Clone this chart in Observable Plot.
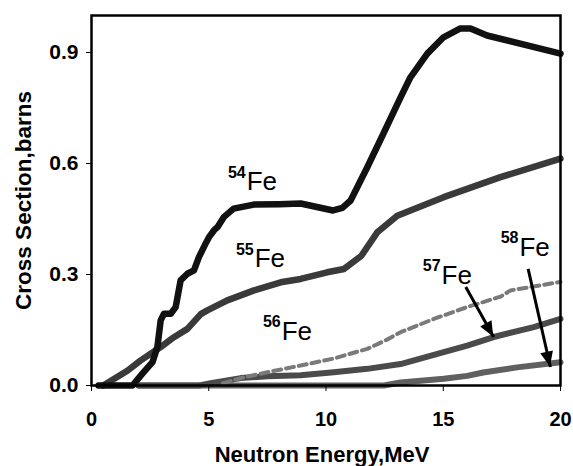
<!DOCTYPE html>
<html><head><meta charset="utf-8">
<script src="https://cdn.jsdelivr.net/npm/d3@7"></script>
<script src="https://cdn.jsdelivr.net/npm/@observablehq/plot@0.6"></script>
<style>body{margin:0;background:#fff}</style>
</head><body><div id="chart"></div>
<script>
// Neutron energy (MeV), cross section (barns)
const fe54 = [[0.3,0],[1.75,0],[2.17,0.032],[2.6,0.063],[2.81,0.104],[2.95,0.176],[3.09,0.194],[3.38,0.194],[3.59,0.212],[3.8,0.284],[4.09,0.302],[4.37,0.311],[4.58,0.347],[4.87,0.384],[5.01,0.401],[5.22,0.419],[5.37,0.428],[5.64,0.455],[6.06,0.478],[6.92,0.489],[8.0,0.49],[8.92,0.492],[10.3,0.473],[10.7,0.48],[11.05,0.5],[11.76,0.59],[12.45,0.681],[13.18,0.779],[13.6,0.833],[14.32,0.897],[15.01,0.941],[15.73,0.965],[16.16,0.965],[16.87,0.946],[20,0.897]];
const fe55 = [[0.5,0],[1.53,0.04],[2.1,0.068],[2.95,0.104],[3.5,0.13],[4.09,0.153],[4.66,0.193],[4.94,0.203],[5.79,0.23],[6.93,0.257],[8.07,0.279],[8.92,0.288],[10.05,0.306],[10.77,0.315],[11.5,0.35],[12.2,0.415],[13.04,0.459],[13.6,0.473],[15.02,0.509],[17.44,0.563],[20,0.613]];
const fe56 = [[5.6,0.006],[6.36,0.02],[7.5,0.036],[8.92,0.054],[10.33,0.073],[11.76,0.099],[12.6,0.124],[13.18,0.144],[14.6,0.18],[16.02,0.212],[17.44,0.24],[17.87,0.257],[20,0.28]];
const fe57 = [[2,0],[4.6,0],[5.08,0.006],[6.36,0.02],[7.5,0.025],[8.92,0.028],[10.33,0.036],[11.76,0.045],[13.18,0.058],[15.02,0.09],[16.02,0.108],[17.15,0.131],[18.86,0.158],[20,0.18]];
const fe58 = [[2,0],[12.47,0],[13.18,0.008],[15.02,0.018],[16.02,0.026],[16.7,0.035],[18.15,0.049],[20,0.063]];

const xTicks = [0, 5, 10, 15, 20];
const yTicks = [0, 0.3, 0.6, 0.9];

// isotope labels (anchor in data coords)
const labelIso = ["54", "55", "56", "57", "58"];
const labelE = [6.62, 6.96, 8.11, 14.93, 18.25];
const labelS = [0.528, 0.32, 0.124, 0.275, 0.351];
const labels = labelIso.map((t, i) => ({t, e: labelE[i], s: labelS[i]}));

// arrows from labels to curves
const arrowFrom = [[15.96, 0.266], [18.62, 0.315]];
const arrowTo = [[17.15, 0.131], [19.57, 0.05]];
const arrows = arrowFrom.map((f, i) => ({x1: f[0], y1: f[1], x2: arrowTo[i][0], y2: arrowTo[i][1]}));

const rows = a => a.map(([e, s]) => ({e, s}));
const FONT = "Liberation Sans, Arial, Helvetica, sans-serif";

const plot = Plot.plot({
  width: 573, height: 466,
  marginLeft: 91, marginRight: 13, marginTop: 15, marginBottom: 81,
  style: {fontFamily: FONT, background: "white", color: "black"},
  x: {domain: [0, 20]},
  y: {domain: [0, 1]},
  marks: [
    Plot.line(rows(fe58), {x: "e", y: "s", stroke: "#606060", strokeWidth: 6, strokeLinejoin: "round"}),
    Plot.line(rows(fe57), {x: "e", y: "s", stroke: "#4a4a4a", strokeWidth: 6, strokeLinejoin: "round"}),
    Plot.line(rows(fe56), {x: "e", y: "s", stroke: "#7a7a7a", strokeWidth: 4, strokeDasharray: "8,5"}),
    Plot.line(rows(fe55), {x: "e", y: "s", stroke: "#3a3a3a", strokeWidth: 6.5, strokeLinejoin: "round"}),
    Plot.line(rows(fe54), {x: "e", y: "s", stroke: "#111", strokeWidth: 6.5, strokeLinejoin: "round"}),
    Plot.link(arrows, {x1: "x1", y1: "y1", x2: "x2", y2: "y2", stroke: "black", strokeWidth: 3}),
    Plot.text(labels, {x: "e", y: "s", text: "t", textAnchor: "end", lineAnchor: "bottom", dx: -1, dy: -12.5, fontSize: 16, fontWeight: "bold", fill: "black"}),
    Plot.text(labels, {x: "e", y: "s", text: () => "Fe", textAnchor: "start", lineAnchor: "bottom", fontSize: 26, fill: "black"}),
    Plot.frame({stroke: "black", strokeWidth: 2.5}),
    Plot.axisX({ticks: xTicks, tickSize: 6, tickPadding: 20, tickFormat: d => String(d), fontSize: 20, fontWeight: "bold", label: null}),
    Plot.axisY({ticks: yTicks, tickSize: 5, tickPadding: 8, tickFormat: d3.format(".1f"), fontSize: 21, fontWeight: "bold", label: null}),
    Plot.text(["Neutron Energy,MeV"], {text: d => d, frameAnchor: "bottom", dy: 76, dx: -4, lineAnchor: "bottom", textAnchor: "middle", fontSize: 22, fontWeight: "bold", fill: "black"}),
    Plot.text(["Cross Section,barns"], {text: d => d, frameAnchor: "left", dx: -68, rotate: -90, textAnchor: "middle", lineAnchor: "middle", fontSize: 22.5, fontWeight: "bold", fill: "black"})
  ]
});

// filled arrowheads placed through the plot's own scales
try {
  const sx = plot.scale("x"), sy = plot.scale("y");
  const svg = d3.select(plot);
  arrows.forEach(a => {
    const x1 = sx.apply(a.x1), y1 = sy.apply(a.y1), x2 = sx.apply(a.x2), y2 = sy.apply(a.y2);
    const ang = Math.atan2(y2 - y1, x2 - x1);
    const L = 15, W = 6.5;
    const bx = x2 - L * Math.cos(ang), by = y2 - L * Math.sin(ang);
    const pts = [[x2, y2], [bx - W * Math.sin(ang), by + W * Math.cos(ang)], [bx + W * Math.sin(ang), by - W * Math.cos(ang)]];
    svg.append("polygon").attr("points", pts.map(p => p.join(",")).join(" ")).attr("fill", "black");
  });
} catch (e) { console.error(e); }

document.getElementById("chart").appendChild(plot);
</script>
</body></html>
